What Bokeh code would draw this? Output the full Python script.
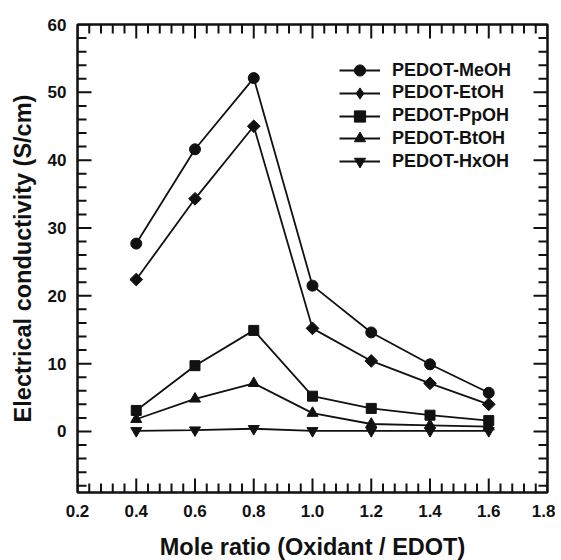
import numpy as np
from bokeh.plotting import figure
from bokeh.models import (LinearAxis, SingleIntervalTicker, PrintfTickFormatter,
                          CustomJSTickFormatter, Legend, LegendItem, Range1d)
from bokeh.embed import file_html
from bokeh.resources import INLINE

# ---- data ----
mole_ratio = [0.4, 0.6, 0.8, 1.0, 1.2, 1.4, 1.6]
meoh = [27.7, 41.6, 52.1, 21.5, 14.6, 9.9, 5.7]
etoh = [22.4, 34.3, 45.0, 15.2, 10.4, 7.1, 4.0]
ppoh = [3.1, 9.7, 14.9, 5.2, 3.4, 2.4, 1.6]
btoh = [1.8, 4.8, 7.1, 2.7, 1.1, 0.9, 0.7]
hxoh = [0.1, 0.2, 0.4, 0.1, 0.1, 0.1, 0.1]
series_names = ["PEDOT-MeOH", "PEDOT-EtOH", "PEDOT-PpOH", "PEDOT-BtOH", "PEDOT-HxOH"]
series_values = [meoh, etoh, ppoh, btoh, hxoh]

x_title = "Mole ratio (Oxidant / EDOT)"
y_title = "Electrical conductivity (S/cm)"

X_MIN, X_MAX, X_STEP = 0.2, 1.8, 0.2
Y_MIN, Y_MAX, Y_STEP = -9, 60, 10

# ---- styles ----
marker_styles = [
    dict(marker="circle", size=11, angle=0.0, legend_marker=None),
    dict(marker="square", size=9, angle=np.pi / 4, legend_marker="diamond"),
    dict(marker="square", size=10, angle=0.0, legend_marker=None),
    dict(marker="triangle", size=11, angle=0.0, legend_marker=None),
    dict(marker="inverted_triangle", size=11, angle=0.0, legend_marker=None),
]
FONT = "Liberation Sans"
INK = "#111111"
FRAME_W, FRAME_H = 470, 468

p = figure(frame_width=FRAME_W, frame_height=FRAME_H,
           x_range=Range1d(X_MIN, X_MAX), y_range=Range1d(Y_MIN, Y_MAX),
           output_backend="svg", toolbar_location=None,
           min_border_left=77, min_border_right=8, min_border_top=24, min_border_bottom=62,
           background_fill_color="white", border_fill_color="white")
p.xgrid.visible = False
p.ygrid.visible = False
p.outline_line_color = INK
p.outline_line_width = 2


def style_axis(ax, labels=True):
    ax.axis_line_width = 2
    ax.axis_line_color = INK
    ax.major_tick_line_color = None
    ax.minor_tick_line_color = None
    ax.major_tick_out = 0
    ax.minor_tick_out = 0
    ax.major_tick_in = 0
    ax.minor_tick_in = 0
    ax.major_label_text_font = FONT
    ax.major_label_text_font_style = "bold"
    ax.major_label_text_color = INK
    ax.axis_label_text_font = FONT
    ax.axis_label_text_font_style = "bold"
    ax.axis_label_text_color = INK
    if labels:
        ax.major_label_text_font_size = "17px"
        ax.axis_label_text_font_size = "23.5px"
    else:
        ax.major_label_text_font_size = "0px"
        ax.major_label_standoff = 0
        ax.formatter = CustomJSTickFormatter(code="return ''")


xa = p.xaxis[0]
xa.ticker = SingleIntervalTicker(interval=X_STEP, num_minor_ticks=5)
xa.formatter = PrintfTickFormatter(format="%.1f")
xa.axis_label = x_title
style_axis(xa)
xa.major_label_standoff = 12
xa.axis_label_standoff = 14

ya = p.yaxis[0]
ya.ticker = SingleIntervalTicker(interval=Y_STEP, num_minor_ticks=5)
ya.axis_label = y_title
style_axis(ya)
ya.major_label_standoff = 11
ya.axis_label_standoff = 9

top = LinearAxis(ticker=SingleIntervalTicker(interval=X_STEP, num_minor_ticks=5))
style_axis(top, labels=False)
p.add_layout(top, "above")
right = LinearAxis(ticker=SingleIntervalTicker(interval=Y_STEP, num_minor_ticks=5))
style_axis(right, labels=False)
p.add_layout(right, "right")

# ---- inward tick marks (drawn as screen-length rays from the frame edges) ----
x_major = np.round(np.arange(X_MIN, X_MAX + 1e-9, X_STEP), 2)
x_all = np.round(np.arange(X_MIN, X_MAX + 1e-9, X_STEP / 5), 2)
x_minor = np.array([v for v in x_all if not np.any(np.isclose(v, x_major))])
y_major = np.arange(0, Y_MAX + 1, Y_STEP)
y_all = np.arange(-8, Y_MAX + 1, 2)
y_minor = np.array([v for v in y_all if v % Y_STEP != 0])

MAJ, MIN_ = 14, 9
tick_kw = dict(line_color=INK, line_width=2, length_units="screen")
p.ray(x=x_major, y=[Y_MIN] * len(x_major), length=MAJ, angle=np.pi / 2, **tick_kw)
p.ray(x=x_minor, y=[Y_MIN] * len(x_minor), length=MIN_, angle=np.pi / 2, **tick_kw)
p.ray(x=x_major, y=[Y_MAX] * len(x_major), length=MAJ, angle=-np.pi / 2, **tick_kw)
p.ray(x=x_minor, y=[Y_MAX] * len(x_minor), length=MIN_, angle=-np.pi / 2, **tick_kw)
p.ray(x=[X_MIN] * len(y_major), y=y_major, length=MAJ, angle=0, **tick_kw)
p.ray(x=[X_MIN] * len(y_minor), y=y_minor, length=MIN_, angle=0, **tick_kw)
p.ray(x=[X_MAX] * len(y_major), y=y_major, length=MAJ, angle=np.pi, **tick_kw)
p.ray(x=[X_MAX] * len(y_minor), y=y_minor, length=MIN_, angle=np.pi, **tick_kw)

# ---- series ----
items = []
for name, vals, ms in zip(series_names, series_values, marker_styles):
    lr = p.line(mole_ratio, vals, line_color=INK, line_width=1.8)
    sr = p.scatter(mole_ratio, vals, marker=ms["marker"], size=ms["size"], angle=ms["angle"],
                   fill_color=INK, line_color=INK)
    if ms["legend_marker"]:
        # small marker hidden beneath the rotated squares: gives the legend its diamond
        lm = p.scatter(mole_ratio, vals, marker=ms["legend_marker"], size=7,
                       fill_color=INK, line_color=INK)
        items.append(LegendItem(label=name, renderers=[lr, lm]))
    else:
        items.append(LegendItem(label=name, renderers=[lr, sr]))

# one single-row legend per entry so the row pitch can be tighter than the glyph box
ROW_H = 28
LEG_LEFT = 262          # px from frame left
LEG_FIRST_CENTER = 46   # px from frame top to first row centre
LEG_PITCH = 22.75
for i, item in enumerate(items):
    centre_from_top = LEG_FIRST_CENTER + i * LEG_PITCH
    bottom_from_frame_bottom = FRAME_H - (centre_from_top + ROW_H / 2)
    leg = Legend(items=[item], location=(LEG_LEFT, bottom_from_frame_bottom), padding=0,
                 spacing=0, margin=0,
                 glyph_width=41, glyph_height=ROW_H, label_height=ROW_H, label_standoff=12,
                 label_text_font=FONT, label_text_font_style="bold",
                 label_text_font_size="18px", label_text_color=INK,
                 border_line_color=None, background_fill_alpha=0)
    p.add_layout(leg, "center")

open("out.html", "w").write(file_html(p, INLINE))
